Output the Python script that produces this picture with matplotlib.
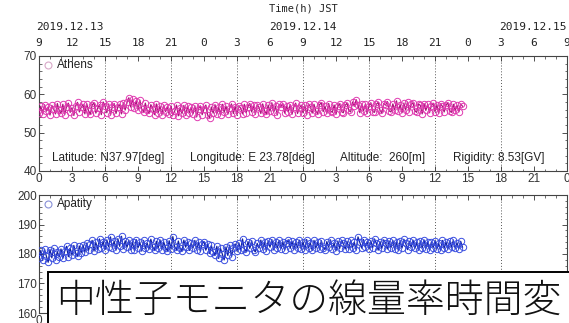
import numpy as np
import matplotlib
matplotlib.use("Agg")
import matplotlib.pyplot as plt
from matplotlib.ticker import MultipleLocator, FuncFormatter
from matplotlib.patches import Rectangle
import matplotlib.transforms as mtransforms

# ---- data: 10-minute count rates, hours since 2019-12-13 00:00 UT ----
athens = [
    55.1, 56.9, 54.8, 57.3, 55.6, 56.7, 54.6, 57.1, 56.2, 54.9, 57.6, 55.8,
    55.0, 57.4, 54.7, 56.8, 57.7, 55.3, 56.5, 54.5, 57.0, 57.9, 55.4, 56.6,
    57.4, 54.9, 57.6, 55.7, 54.8, 57.2, 57.8, 55.1, 56.4, 57.3, 54.7, 58.0,
    56.9, 55.2, 57.5, 54.6, 56.8, 57.6, 55.0, 56.7, 57.4, 54.9, 57.8, 55.9,
    57.9, 59.1, 56.7, 58.8, 56.4, 58.3, 55.9, 58.5, 56.2, 55.4, 57.7, 55.8,
    55.0, 57.3, 56.3, 54.7, 57.5, 55.2, 56.9, 54.6, 57.2, 55.5, 56.8, 54.8,
    57.0, 54.6, 55.6, 57.2, 54.4, 56.5, 55.0, 57.1, 54.5, 56.9, 55.2, 56.6,
    54.9, 57.0, 54.1, 56.3, 57.0, 54.7, 56.2, 57.2, 54.6, 53.9, 56.7, 55.1,
    57.3, 54.9, 56.7, 54.6, 57.4, 55.3, 56.9, 54.8, 56.4, 57.5, 55.0, 56.8,
    54.7, 57.0, 56.4, 54.9, 57.4, 55.2, 56.8, 57.6, 55.4, 57.1, 54.8, 57.3,
    56.6, 55.0, 57.5, 55.7, 54.9, 57.2, 55.6, 57.8, 55.3, 56.9, 54.6, 57.4,
    56.8, 57.6, 55.1, 57.0, 55.4, 57.3, 54.8, 56.7, 57.7, 55.0, 56.4, 57.2,
    55.2, 57.1, 54.7, 57.5, 56.8, 55.1, 57.4, 55.6, 54.9, 57.3, 57.8, 55.5,
    56.9, 55.0, 57.6, 55.7, 55.3, 57.2, 54.8, 57.0, 57.5, 55.5, 55.2, 57.1,
    57.7, 55.8, 55.4, 58.0, 56.9, 58.6, 57.3, 55.2, 57.5, 55.7, 57.4, 55.0,
    57.0, 57.8, 55.5, 55.3, 57.4, 57.9, 55.8, 55.1, 57.6, 57.2, 58.1, 55.7,
    55.4, 57.5, 56.0, 58.3, 55.6, 57.3, 55.2, 57.7, 55.9, 58.0, 55.5, 57.4,
    57.8, 55.7, 55.3, 57.5, 57.1, 54.9, 57.6, 55.8, 57.4, 55.2, 57.0, 57.7,
    55.5, 57.3, 55.0, 57.5, 56.9, 55.4, 57.2, 57.8, 55.6, 55.3, 57.4, 55.8,
    57.1, 55.4, 57.5, 56.9,
]

apatity = [
    178.6, 181.2, 177.8, 181.6, 179.3, 177.2, 181.5, 178.7, 181.9, 178.0, 180.8, 179.0,
    181.7, 178.5, 180.9, 182.6, 179.1, 181.9, 179.6, 182.9, 180.2, 179.3, 182.7, 180.4,
    183.1, 180.6, 183.7, 181.2, 183.3, 184.6, 181.0, 183.9, 181.6, 185.1, 182.2, 184.2,
    181.5, 184.8, 182.4, 185.8, 182.0, 184.4, 181.3, 185.2, 182.6, 186.0, 181.8, 184.5,
    182.3, 184.7, 181.4, 184.1, 181.2, 184.9, 182.1, 184.0, 181.0, 184.6, 181.9, 183.7,
    181.6, 185.0, 182.4, 181.3, 184.3, 182.0, 184.8, 181.5, 184.1, 182.2, 181.1, 184.5,
    181.8, 185.9, 182.5, 181.4, 184.4, 181.9, 181.0, 184.7, 182.3, 184.1, 181.2, 183.8,
    182.0, 184.6, 181.5, 184.0, 180.9, 183.5, 184.2, 181.3, 183.3, 180.2, 182.9, 180.8,
    179.6, 182.6, 178.5, 181.9, 179.9, 178.0, 182.4, 179.5, 183.0, 179.1, 182.1, 183.4,
    181.0, 183.8, 181.4, 185.1, 181.7, 180.8, 184.2, 181.9, 184.5, 181.5, 180.7, 183.6,
    182.0, 184.7, 181.6, 184.1, 181.0, 184.4, 182.3, 184.9, 181.4, 183.9, 182.1, 184.6,
    181.8, 184.2, 181.3, 183.7, 184.8, 181.9, 184.3, 181.5, 184.0, 182.2, 184.7, 181.7,
    184.1, 181.4, 184.9, 182.1, 183.8, 181.2, 184.6, 182.0, 184.1, 181.6, 184.5, 182.2,
    181.5, 184.2, 182.3, 184.8, 181.8, 183.7, 181.1, 184.4, 181.9, 184.6, 183.6, 181.7,
    184.3, 181.6, 184.7, 182.2, 184.0, 181.4, 185.8, 183.9, 182.0, 184.9, 182.3, 184.2,
    181.8, 184.5, 182.1, 185.1, 183.6, 181.3, 184.2, 181.9, 184.8, 183.7, 181.7, 184.4,
    182.2, 184.6, 181.6, 184.1, 181.2, 184.5, 182.0, 185.0, 183.6, 181.5, 184.3, 182.3,
    184.7, 181.9, 183.9, 181.3, 184.4, 182.1, 184.8, 181.8, 184.2, 181.4, 184.0, 182.2,
    184.5, 181.7, 183.7, 181.2, 184.6, 182.0, 184.1, 181.6, 184.4, 182.3, 184.7, 181.9,
    183.8, 181.8, 184.3, 182.3,
]

hours_ut = np.arange(len(athens)) / 6.0

station_names = ["Athens", "Apatity"]
station_info = ["Latitude: N37.97[deg]", "Longitude: E 23.78[deg]",
                "Altitude:  260[m]", "Rigidity: 8.53[GV]"]
date_labels = ["2019.12.13", "2019.12.14", "2019.12.15"]
caption = "中性子モニタの線量率時間変"

# ---- figure ----
W, H = 569, 323
fig = plt.figure(figsize=(W / 100, H / 100), dpi=100)
fig.patch.set_facecolor("white")

sans = ["Liberation Sans", "DejaVu Sans"]
mono = ["DejaVu Sans Mono"]


def px_axes(left, top, right, bottom):
    return fig.add_axes([left / W, 1 - bottom / H, (right - left) / W, (bottom - top) / H])


ax1 = px_axes(39, 56, 567, 171)
ax2 = px_axes(39, 195, 567, 313)

hour_fmt = FuncFormatter(lambda v, p: f"{int(round(v)) % 24}")

for ax, ylim in ((ax1, (40, 70)), (ax2, (160, 200))):
    ax.set_xlim(0, 48)
    ax.set_ylim(*ylim)
    ax.xaxis.set_major_locator(MultipleLocator(3))
    ax.xaxis.set_minor_locator(MultipleLocator(1))
    ax.yaxis.set_major_locator(MultipleLocator(10))
    ax.yaxis.set_minor_locator(MultipleLocator(2))
    ax.xaxis.set_major_formatter(hour_fmt)
    ax.tick_params(which="both", direction="in", top=True, right=True,
                   labelsize=8.5, pad=1.5, colors="#333333")
    ax.tick_params(which="major", length=3.5, width=0.6)
    ax.tick_params(which="minor", length=1.8, width=0.5)
    for lab in ax.get_xticklabels() + ax.get_yticklabels():
        lab.set_family(sans)
    for sp in ax.spines.values():
        sp.set_color("#444444")
        sp.set_linewidth(0.8)
    for gx in range(6, 48, 6):
        ax.axvline(gx, color="#555555", lw=0.7, ls=(0, (1, 2)), zorder=1)

# the lower panel's hour labels sit under the caption banner; only the first shows
ax2.xaxis.set_major_formatter(FuncFormatter(lambda v, p: "0" if abs(v) < 1e-6 else ""))

# series
ax1.plot(hours_ut, athens, color="#a8157a", lw=0.9, marker="o", ms=4.6,
         mfc="none", mec="#e03ab0", mew=0.7, zorder=3)
ax2.plot(hours_ut, apatity, color="#1020a0", lw=0.9, marker="o", ms=4.6,
         mfc="none", mec="#3a4ee0", mew=0.7, zorder=3)

# station keys
for ax, name, col in ((ax1, station_names[0], "#d8a8c8"), (ax2, station_names[1], "#8890d8")):
    ax.plot([0.017], [0.92], transform=ax.transAxes, marker="o", ms=5,
            mfc="none", mec=col, mew=0.8, ls="none", clip_on=False)
    ax.text(0.034, 0.92, name, transform=ax.transAxes, ha="left", va="center",
            fontsize=8.5, family=sans, color="#222222")

# station parameters along the bottom of the first panel
for xf, s in zip((0.0246, 0.286, 0.570, 0.784), station_info):
    ax1.text(xf, 0.11, s, transform=ax1.transAxes, ha="left", va="center",
             fontsize=8.5, family=sans, color="#222222")

# JST scale above the first panel
trans = mtransforms.blended_transform_factory(ax1.transData, ax1.transAxes)
for h in range(0, 49, 3):
    ax1.text(h, 1.11, f"{(h + 9) % 24}", transform=trans, ha="center", va="center",
             fontsize=8, family=mono, color="#222222")
ax1.text(-0.3, 1.25, date_labels[0], transform=trans, ha="left", va="center",
         fontsize=8, family=mono, color="#222222")
ax1.text(24, 1.25, date_labels[1], transform=trans, ha="center", va="center",
         fontsize=8, family=mono, color="#222222")
ax1.text(48, 1.25, date_labels[2], transform=trans, ha="right", va="center",
         fontsize=8, family=mono, color="#222222")
ax1.text(24, 1.415, "Time(h) JST", transform=trans, ha="center", va="center",
         fontsize=7.5, family=mono, color="#222222")

# caption banner
fig.patches.append(Rectangle((48 / W, -0.1), 1.0, 0.1 + 1 - 272 / H,
                             transform=fig.transFigure, facecolor="white",
                             edgecolor="black", lw=1.4, zorder=10))
fig.text(56 / W, 1 - 301 / H, caption, ha="left", va="center", fontsize=28,
         family=["Noto Sans CJK JP", "DejaVu Sans"], fontweight="light",
         color="#111111", zorder=11)

fig.savefig("out.png", dpi=100)
